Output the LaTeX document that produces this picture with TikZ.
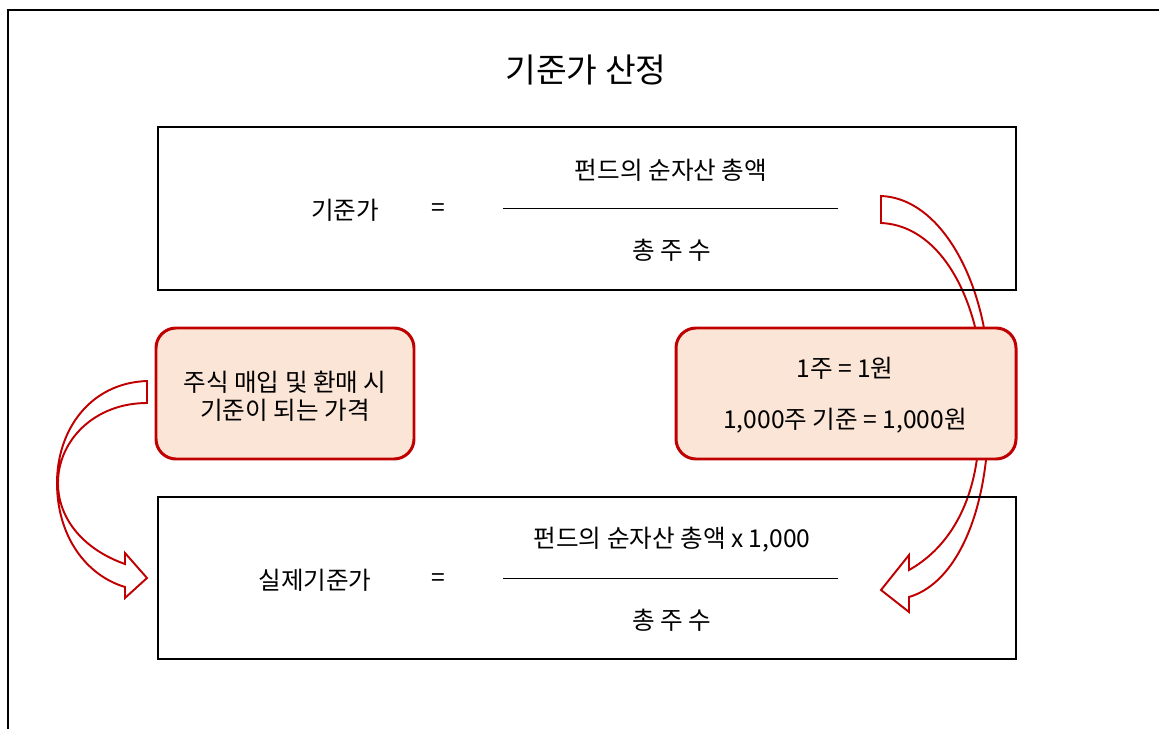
\documentclass[tikz,border=0pt]{standalone}
\usepackage{fontspec}
\setmainfont{Noto Sans CJK KR}
\usepackage{tikz}
\usetikzlibrary{calc}
\definecolor{notered}{HTML}{C00000}
\definecolor{notefill}{HTML}{FBE5D6}
\tikzstyle{txt} = [inner sep=0pt, font=\fontsize{14pt}{16pt}\selectfont]
\tikzstyle{ttl} = [inner sep=0pt, font=\fontsize{19pt}{22pt}\selectfont]
\tikzstyle{formbox} = [draw=black, line width=1.1pt]
\tikzstyle{notebox} = [draw=notered, fill=notefill, line width=1.7pt, rounded corners=0.4cm]
\tikzstyle{bendarrow} = [draw=notered, fill=white, line width=1.1pt, line join=miter]

\begin{document}
\begin{tikzpicture} [x=0.02cm, y=-0.02cm]

						\useasboundingbox (0,0) rectangle (1159,729);

						% frame (top and left only)
						\coordinate (F0) at (8,729);
						\coordinate (F1) at (8,10);
						\coordinate (F2) at (1159,10);
						\draw[line width = 1.1pt] (F0) -- (F1) -- (F2);

						\node[ttl] (title) at (586,70) {기준가 산정};

						% curved arrows
						\draw[bendarrow] (881,196) .. controls (935,198) and (975,265) .. (986,340)
							-- (978,340) .. controls (965,275) and (930,225) .. (881,223) -- cycle;
						\draw[bendarrow] (987,450) .. controls (980,530) and (950,585) .. (909,597)
							-- (909,612) -- (881,590) -- (909,555) -- (909,570)
							.. controls (945,550) and (972,510) .. (978,450) -- cycle;
						\draw[bendarrow] (147,381) .. controls (90,383) and (57,430) .. (57,483)
							.. controls (57,535) and (85,575) .. (125,587)
							-- (125,598) -- (147,578) -- (125,553) -- (125,564)
							.. controls (85,550) and (58,520) .. (58,483)
							.. controls (58,440) and (95,403) .. (147,403) -- cycle;

						% upper formula
						\draw[formbox] (158,127) rectangle (1016,290);
						\node[txt] (lhsA) at (345,210) {기준가};
						\node[txt] (eqA) at (438,210) {=};
						\node[txt] (numA) at (671,170) {펀드의 순자산 총액};
						\node[txt] (denA) at (672,250) {총 주 수};
						\coordinate (barAl) at (503,208);
						\coordinate (barAr) at (838,208);
						\draw[line width = 0.5pt] (barAl) -- (barAr);

						% lower formula
						\draw[formbox] (158,497) rectangle (1016,659);
						\node[txt] (lhsB) at (315,580) {실제기준가};
						\node[txt] (eqB) at (438,580) {=};
						\node[txt] (numB) at (672,540) {펀드의 순자산 총액 x 1,000};
						\node[txt] (denB) at (672,620) {총 주 수};
						\coordinate (barBl) at (503,578);
						\coordinate (barBr) at (838,578);
						\draw[line width = 0.5pt] (barBl) -- (barBr);

						% notes
						\draw[notebox] (156,328) rectangle (414,459);
						\node[txt, align=center] (noteL) at (285,396) {주식 매입 및 환매 시\\기준이 되는 가격};

						\draw[notebox] (676,328) rectangle (1016,459);
						\node[txt] (noteRa) at (845,368) {1주 = 1원};
						\node[txt] (noteRb) at (845,421) {1,000주 기준 = 1,000원};

					\end{tikzpicture}
\end{document}
